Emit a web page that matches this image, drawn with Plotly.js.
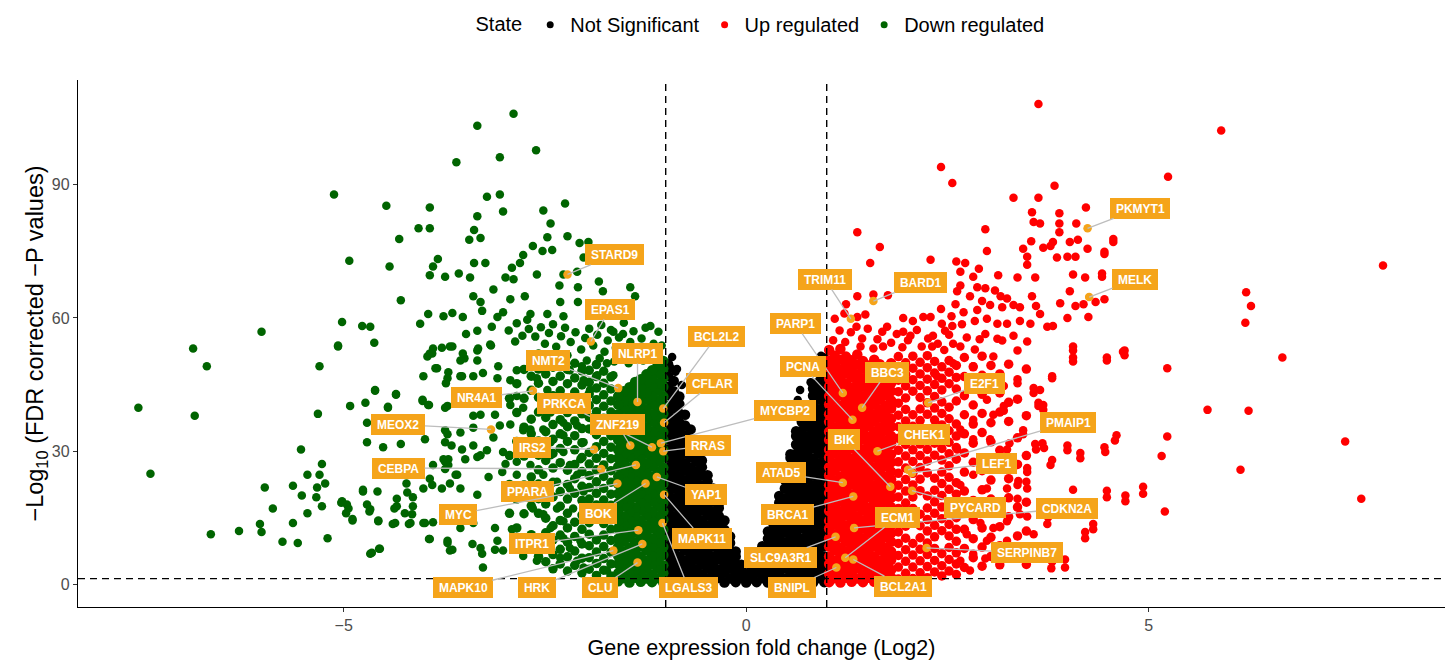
<!DOCTYPE html>
<html><head><meta charset="utf-8">
<script src="https://cdn.plot.ly/plotly-3.0.1.min.js"></script>
<style>html,body{margin:0;padding:0;background:#fff}#chart{width:1450px;height:664px}</style>
</head><body><div id="chart"></div>
<script>
// ---------- DATA (log2 fold change, -log10 FDR) ----------
const stateNames = ['Not Significant', 'Up regulated', 'Down regulated'];

// Not significant: dense columns [x, [y...]]
const notSigColumns = [
 [-0.97,[0.4,2.5,4.3,6.4,8.6,10.4,12.3,14.5,16.4,18.6,20.3,22.5,24.4,26.2,28.5,30.4,32.6,34.3,36.5,38.4,40.2,42.6,44.5,46.9,49.6]],
 [-0.90,[1.4,3.3,5.5,7.4,9.3,11.6,13.4,15.3,17.5,19.4,21.6,23.3,25.5,27.4,29.3,31.6,33.4,35.5,37.3,39.6,41.4,43.5,45.8]],
 [-0.83,[0.5,2.4,4.6,6.3,8.5,10.3,12.6,14.4,16.3,18.5,20.4,22.6,24.3,26.5,28.4,30.3,32.5,34.6,36.4,38.5,40.6,42.3]],
 [-0.76,[1.3,3.5,5.4,7.6,9.4,11.3,13.5,15.4,17.6,19.3,21.5,23.4,25.6,27.3,29.5,31.4,33.6,35.8,38.2]],
 [-0.69,[0.4,2.6,4.4,6.5,8.3,10.5,12.4,14.6,16.5,18.3,20.6,22.4,24.5,26.3,28.6,30.5,32.7,34.9]],
 [-0.62,[1.5,3.4,5.6,7.3,9.5,11.4,13.6,15.5,17.4,19.6,21.3,23.5,25.4,27.6,29.5,31.3]],
 [-0.55,[0.6,2.3,4.5,6.6,8.4,10.6,12.5,14.3,16.6,18.4,20.5,22.3,24.6,26.4,27.9]],
 [-0.48,[1.4,3.6,5.3,7.5,9.6,11.5,13.3,15.6,17.4,19.5,21.4,23.2,24.6]],
 [-0.41,[0.5,2.5,4.4,6.3,8.5,10.6,12.4,14.5,16.3,18.6,20.4,21.6]],
 [-0.34,[1.5,3.3,5.6,7.4,9.3,11.5,13.6,15.4,17.2,18.2]],
 [-0.27,[0.4,2.6,4.5,6.4,8.6,10.4,12.3,14.4]],
 [-0.20,[1.3,3.5,5.4,7.5,9.3,10.8]],
 [-0.13,[0.5,2.4,4.6,6.3,7.4]],
 [-0.06,[1.4,3.3,4.4]],
 [0.00,[0.4,2.1]],
 [0.06,[1.3,3.2]],
 [0.13,[0.5,2.6,4.5,5.6]],
 [0.20,[1.4,3.5,5.4,7.3,8.6]],
 [0.27,[0.4,2.5,4.4,6.6,8.5,10.3,11.9]],
 [0.34,[1.5,3.4,5.6,7.4,9.3,11.5,13.4,15.5]],
 [0.41,[0.6,2.4,4.5,6.3,8.6,10.4,12.5,14.3,16.6,18.4,19.9]],
 [0.48,[1.3,3.6,5.4,7.5,9.3,11.6,13.4,15.3,17.5,19.4,21.6,23.5,24.2]],
 [0.55,[0.4,2.5,4.3,6.6,8.4,10.5,12.3,14.6,16.4,18.3,20.5,22.4,24.6,26.3,28.5,29.3]],
 [0.62,[1.4,3.3,5.5,7.4,9.6,11.4,13.3,15.5,17.4,19.6,21.3,23.5,25.4,27.6,29.4,31.5,33.4,34.5]],
 [0.69,[0.5,2.6,4.4,6.3,8.5,10.3,12.6,14.4,16.3,18.5,20.4,22.6,24.3,26.5,28.4,30.3,32.5,34.6,36.6]],
 [0.76,[1.5,3.4,5.6,7.3,9.4,11.5,13.4,15.6,17.3,19.5,21.4,23.6,25.3,27.5,29.6,31.4,33.3,35.5,37.4,39.6]],
 [0.83,[0.4,2.5,4.6,6.4,8.3,10.5,12.4,14.3,16.5,18.4,20.6,22.3,24.5,26.4,28.3,30.6,32.4,34.5,36.3,38.6,40.4,42.5,44.1]],
 [0.90,[1.4,3.3,5.5,7.6,9.4,11.3,13.5,15.4,17.6,19.3,21.5,23.4,25.6,27.3,29.5,31.4,33.6,35.4,37.5,39.3,41.6,43.4,45.5,47.6]],
 [0.97,[0.5,2.4,4.5,6.3,8.6,10.4,12.3,14.5,16.4,18.6,20.3,22.5,24.4,26.6,28.3,30.5,32.4,34.6,36.3,38.5,40.4,42.6,44.3,46.5,48.6,50.9]]
];
const notSigScatter = [[0.67,43.8],[0.64,41.5],[-0.93,48.6],[-0.88,47.9],[-0.80,44.9],[0.93,51.5],[0.80,45.5],[-0.86,48.5],[-0.92,51.2]];

// Up regulated: solid core, semi-dense columns, scattered genes
const upCoreColumns = [
 [1.03,[0.5,2.4,4.6,6.3,8.5,10.4,12.6,14.3,16.5,18.4,20.6,22.3,24.5,26.4,28.6,30.3,32.5,34.4,36.6,38.3,40.5,42.4,44.6,46.3,48.5,50.4,52.8]],
 [1.10,[1.4,3.5,5.3,7.6,9.4,11.3,13.5,15.4,17.6,19.3,21.5,23.4,25.6,27.3,29.5,31.4,33.6,35.3,37.5,39.4,41.6,43.3,45.5,47.4,49.6,51.5]],
 [1.17,[0.4,2.6,4.4,6.5,8.3,10.6,12.4,14.5,16.3,18.6,20.4,22.5,24.3,26.6,28.4,30.5,32.3,34.6,36.4,38.5,40.3,42.6,44.4,46.5,48.3,50.6,53.0]],
 [1.24,[1.5,3.3,5.5,7.4,9.6,11.5,13.3,15.6,17.4,19.5,21.3,23.6,25.4,27.5,29.3,31.6,33.4,35.5,37.3,39.6,41.4,43.5,45.3,47.6,49.4,51.3]],
 [1.31,[0.6,2.5,4.3,6.6,8.4,10.5,12.3,14.6,16.4,18.5,20.3,22.6,24.4,26.5,28.3,30.6,32.4,34.5,36.3,38.6,40.4,42.5,44.3,46.6,48.4,50.5]],
 [1.38,[1.3,3.6,5.4,7.3,9.5,11.4,13.6,15.3,17.5,19.4,21.6,23.3,25.5,27.4,29.6,31.3,33.5,35.4,37.6,39.3,41.5,43.4,45.6,47.3,49.5,51.8]],
 [1.45,[0.5,2.3,4.5,6.4,8.6,10.3,12.5,14.4,16.6,18.3,20.5,22.4,24.6,26.3,28.5,30.4,32.6,34.3,36.5,38.4,40.6,42.3,44.5,46.4,48.6,50.3]],
 [1.52,[1.5,3.4,5.6,7.5,9.3,11.6,13.4,15.5,17.3,19.6,21.4,23.5,25.3,27.6,29.4,31.5,33.3,35.6,37.4,39.5,41.3,43.6,45.4,47.5,49.3]],
 [1.59,[0.6,2.6,4.4,6.3,8.5,10.4,12.6,14.3,16.5,18.4,20.6,22.3,24.5,26.4,28.6,30.3,32.5,34.4,36.6,38.3,40.5,42.4,44.6,46.3,48.5,50.6]],
 [1.66,[1.4,3.5,5.3,7.6,9.4,11.3,13.5,15.4,17.6,19.3,21.5,23.4,25.6,27.3,29.5,31.4,33.6,35.3,37.5,39.4,41.6,43.3,45.5,47.4,49.6]],
 [1.73,[0.8,2.4,4.6,6.5,8.3,10.6,12.4,14.5,16.3,18.6,20.4,22.5,24.3,26.6,28.4,30.5,32.3,34.6,36.4,38.5,40.3,42.6,44.4,46.5,48.3]],
 [1.80,[1.6,3.3,5.5,7.4,9.6,11.5,13.3,15.6,17.4,19.5,21.3,23.6,25.4,27.5,29.3,31.6,33.4,35.5,37.3,39.6,41.4,43.5,45.3,47.6,49.8]]
];
const upSemiColumns = [
 [1.89,[1.2,3.9,6.5,9.2,11.8,14.4,17.1,19.7,22.3,25.0,27.6,30.2,32.9,35.5,38.1,40.8,43.4,46.0,48.7,51.3]],
 [1.98,[2.5,5.2,7.8,10.4,13.1,15.7,18.3,21.0,23.6,26.2,28.9,31.5,34.1,36.8,39.4,42.0,44.7,47.3,49.9]],
 [2.07,[1.3,3.9,6.6,9.2,14.5,17.1,19.7,22.4,25.0,27.7,30.3,32.9,35.6,38.2,43.5,46.1,48.7,51.4]],
 [2.16,[2.6,5.3,7.9,10.5,13.2,15.8,21.1,23.7,26.3,29.0,31.6,34.2,36.9,39.5,42.1,44.8,47.4,50.0]],
 [2.25,[1.5,4.0,6.7,9.3,12.0,14.6,17.2,19.9,25.1,27.8,30.4,33.0,38.3,40.9,43.6,46.2,48.8,51.5]],
 [2.34,[2.8,5.4,8.1,10.7,13.3,16.0,18.6,21.2,23.9,29.1,31.8,34.4,37.0,39.7,42.3,45.0,47.6,50.2]],
 [2.43,[1.9,4.2,6.9,12.1,14.8,17.4,20.0,22.7,25.3,28.0,30.6,35.9,38.5,41.1,43.8,46.4,49.0]],
 [2.52,[3.0,5.6,8.3,10.9,13.5,16.2,21.4,24.1,26.7,29.4,32.0,34.6,37.3,39.9,45.2,47.8,50.4]],
 [2.61,[2.2,4.6,7.1,9.7,12.4,15.0,17.6,20.3,22.9,28.2,30.8,33.4,36.1,41.3,44.0,46.6,49.3]],
 [2.71,[3.8,8.1,12.4,16.7,21.0,25.3,29.6,33.9,38.2,42.5,46.8,51.1]],
 [2.82,[6.0,10.3,14.6,18.9,27.5,31.8,36.1,40.4,44.7,49.0]],
 [2.93,[4.1,8.4,12.7,17.0,21.3,25.6,34.2,38.5,42.8,47.1,51.4]],
 [3.04,[6.3,10.6,19.2,23.5,27.8,32.1,36.4,45.0,49.3]],
 [3.15,[4.4,8.7,13.0,17.3,25.9,30.2,38.8,43.1,47.4]],
 [3.26,[6.6,15.2,19.5,23.8,28.1,36.7,41.0,49.6]],
 [3.37,[10.9,17.4,27.0,33.0,41.7]],
 [3.48,[4.5,12.0,18.5,29.0,38.0,48.5]]
];
const upScatter = [
 [3.63,108.2],[2.42,94.0],[2.56,90.4],[3.83,89.8],[3.32,87.1],[3.63,87.1],[4.22,84.9],[3.55,83.8],[3.89,83.6],[3.57,81.6],[3.65,81.3],[3.89,81.3],[4.10,81.3],[2.97,80.0],[1.38,79.3],[3.89,79.3],[4.56,77.1],[3.54,77.3],[3.81,77.1],[4.02,77.1],[4.12,77.6],[1.66,76.0],[2.99,75.1],[3.44,75.6],[3.69,75.8],[3.78,76.2],[4.24,75.6],[4.45,74.4],[3.49,73.8],[3.86,73.6],[3.99,73.8],[4.09,73.8],[1.54,72.4],[2.29,73.1],[2.61,72.7],[2.72,72.4],[2.89,71.1],[3.49,72.0],[2.66,70.4],[2.82,69.3],[3.13,69.6],[3.37,69.1],[3.59,69.1],[4.06,69.8],[4.21,69.1],[4.42,69.3],[2.66,67.3],[2.87,66.9],[2.97,66.7],[3.09,66.2],[2.62,66.0],[1.38,64.9],[1.58,65.3],[1.76,65.1],[2.78,64.9],[3.16,64.9],[3.24,64.4],[3.55,64.9],[4.02,66.0],[1.24,63.1],[2.60,63.1],[2.93,63.8],[3.03,62.9],[3.18,62.4],[3.32,62.9],[3.40,62.4],[3.90,63.3],[4.09,62.7],[4.19,63.1],[4.34,63.6],[4.45,64.2],[2.42,62.0],[2.87,61.8],[3.60,62.7],[1.38,60.2],[1.37,58.0],[1.75,58.0],[2.07,59.3],[2.20,60.2],[2.29,60.2],[2.43,58.7],[2.56,58.2],[2.70,61.3],[2.84,59.3],[2.99,59.8],[3.12,58.7],[3.24,58.7],[3.40,59.3],[3.53,58.7],[3.65,60.9],[3.74,58.0],[3.81,58.2],[3.99,60.0],[4.25,60.2],[1.69,56.9],[1.95,56.9],[2.04,56.0],[2.32,56.0],[2.47,57.1],[2.57,54.2],[2.97,56.4],[3.12,55.3],[3.18,54.9],[3.32,56.0],[3.49,54.7],[1.42,53.6],[1.58,53.1],[1.70,53.6],[2.31,53.6],[4.06,52.7],[4.68,52.4],[1.04,52.7],
 [5.90,102.2],[5.24,91.8],[4.56,77.8],[4.45,74.9],[4.42,70.0],[7.91,71.8],[6.21,65.8],[6.27,62.7],[6.20,58.9],[6.66,51.1],[5.23,48.7],[4.70,52.7],[4.48,51.1],[4.06,53.6],[4.06,51.1],[3.80,46.9],[3.57,44.2],[3.37,46.2],[5.73,39.3],[6.24,39.1],[7.44,32.2],[5.23,33.3],[5.16,28.9],[6.14,25.8],[7.64,19.3],[5.20,16.4],[4.93,22.0],[4.71,20.0],[4.48,21.1],[4.60,33.6],[4.45,30.9],[4.15,29.6],[3.99,31.3],[3.80,28.0],[3.68,31.8],[3.59,31.6],[3.49,26.2],[3.48,23.1],[3.38,23.3],[4.31,13.6],[4.21,11.8],[3.75,15.1],[3.80,5.1],[3.96,5.6],[3.20,40.2],[3.63,40.9],[3.69,40.4],[3.44,34.7],[3.27,31.8],[4.06,21.3],
 [4.06,50.2],[4.48,50.4],[4.70,51.6],[3.80,46.4],[3.65,43.8],[3.57,43.1],[3.37,45.3],[3.63,40.2],[3.69,39.3],[3.20,39.1],[3.07,38.2],[4.58,32.4],[4.46,29.8],[3.99,30.2],[4.15,28.4],[3.78,26.9],[3.60,30.4],[3.70,30.7],[3.44,33.8],[3.24,30.4],[3.03,32.7],[3.49,25.3],[3.37,22.4],[3.49,21.6],[3.37,19.3],[4.93,20.4],[4.71,18.7],[4.48,19.6],[4.31,12.4],[4.21,10.4],[3.74,13.6],[3.49,15.3],[3.96,3.8],[3.79,3.6],[2.97,5.8],[2.78,3.1],
 [2.37,46.9],[2.57,49.8],[2.82,49.1],[3.07,51.3],[3.37,52.7],[3.20,44.7],[2.99,41.6],[2.82,37.1],[2.66,34.9],[2.82,32.7],[2.62,30.4],[3.07,26.0],[2.82,24.7],[2.66,22.4],[2.99,21.6],[3.24,21.6],[3.40,15.8],[3.24,14.2],[3.07,12.7],[2.91,13.8],[2.74,11.3],[2.99,9.8],[3.24,9.8],[3.57,11.3],[2.82,6.9],[2.66,5.3],[3.57,8.2],
 [1.08,55.0],[1.16,57.2],[1.23,54.6],[1.30,56.8],[1.44,55.4],[1.51,57.6],[1.63,55.2],[1.80,54.4],[1.87,56.4],[1.94,53.4],[2.01,55.0],[2.12,57.3],[2.18,53.6],[2.26,55.4],[2.38,54.2],[2.46,52.8],[2.52,56.2],[2.66,53.6],[2.74,55.6],[2.84,52.9],[2.90,55.2],[1.10,59.8],[1.22,61.0],[1.48,60.8],[1.95,60.0],[2.55,60.4],[2.68,58.6]
];

// Down regulated: solid core, semi-dense columns, scattered genes
const downCoreColumns = [
 [-1.03,[0.4,2.5,4.3,6.6,8.4,10.5,12.3,14.6,16.4,18.3,20.5,22.6,24.4,26.3,28.5,30.4,32.6,34.3,36.5,38.4,40.6,42.3,44.5,46.4,48.6,50.3]],
 [-1.10,[1.4,3.6,5.4,7.3,9.5,11.4,13.6,15.3,17.5,19.4,21.3,23.5,25.4,27.6,29.3,31.5,33.4,35.6,37.3,39.5,41.4,43.6,45.3,47.5,49.4]],
 [-1.17,[0.5,2.3,4.6,6.4,8.5,10.3,12.6,14.4,16.3,18.6,20.4,22.5,24.3,26.6,28.4,30.3,32.5,34.4,36.6,38.3,40.5,42.4,44.6,46.3,48.2]],
 [-1.24,[1.3,3.5,5.3,7.6,9.4,11.5,13.3,15.6,17.4,19.5,21.3,23.6,25.4,27.3,29.5,31.4,33.6,35.3,37.5,39.4,41.6,43.3,45.4,47.3]],
 [-1.31,[0.6,2.4,4.5,6.3,8.6,10.4,12.5,14.3,16.6,18.4,20.5,22.3,24.6,26.4,28.3,30.5,32.4,34.6,36.3,38.5,40.4,42.6,44.3,46.2]],
 [-1.38,[1.5,3.3,5.6,7.4,9.3,11.6,13.4,15.5,17.3,19.6,21.4,23.3,25.5,27.4,29.6,31.3,33.5,35.4,37.6,39.3,41.5,43.4,45.6]],
 [-1.45,[0.4,2.6,4.4,6.5,8.3,10.6,12.4,14.5,16.4,18.3,20.6,22.4,24.5,26.3,28.6,30.4,32.3,34.5,36.4,38.6,40.3,42.5,44.4]],
 [-1.52,[1.4,3.4,5.5,7.3,9.6,11.4,13.5,15.3,17.6,19.4,21.5,23.4,25.3,27.5,29.4,31.6,33.3,35.5,37.4,39.6,41.3,43.5]],
 [-1.59,[0.7,2.5,4.6,6.4,8.5,10.3,12.6,14.4,16.5,18.3,20.4,22.6,24.3,26.5,28.4,30.3,32.5,34.4,36.6,38.3,40.5,42.4]]
];
const downSemiColumns = [
 [-1.68,[1.9,4.6,7.2,9.9,12.4,15.1,17.8,20.3,23.0,25.6,28.3,30.9,33.5,36.2,38.8,41.3,44.0,46.7]],
 [-1.77,[3.2,5.8,8.5,11.1,13.7,16.4,19.0,21.6,24.3,26.9,29.5,32.2,34.8,37.4,40.1,42.7,45.3,48.0]],
 [-1.86,[2.0,4.7,7.3,10.0,15.2,17.9,20.5,23.1,25.8,28.4,31.0,33.7,36.3,38.9,41.6,44.2,46.8,49.5]],
 [-1.95,[3.4,6.0,8.7,11.3,13.9,16.6,19.2,21.8,24.5,27.1,29.7,35.0,37.6,40.3,42.9,45.5,48.2]],
 [-2.04,[2.6,5.9,9.1,12.4,15.6,18.9,22.1,25.4,28.6,31.9,35.1,38.4,41.6,44.9,48.1]],
 [-2.13,[4.3,7.5,10.8,14.0,20.5,23.8,27.0,30.3,33.5,36.8,40.0,43.3,46.5,49.8]],
 [-2.22,[3.0,6.2,9.5,12.7,16.0,19.2,22.5,25.7,32.2,35.5,38.7,42.0,45.2,48.4]],
 [-2.31,[4.6,7.9,11.1,14.4,17.6,20.9,27.4,30.6,33.9,37.1,40.4,43.6,46.9]],
 [-2.40,[3.5,6.7,10.0,13.2,19.7,23.0,26.2,29.5,32.7,36.0,42.5,45.7,48.9]],
 [-2.49,[5.1,8.4,11.6,14.9,18.1,21.4,27.9,31.1,34.4,37.6,40.9,47.4]],
 [-2.58,[6.3,9.5,16.0,19.3,22.6,25.8,29.1,32.3,38.8,42.1,45.3,48.5]],
 [-2.67,[7.9,11.2,17.7,20.9,24.2,30.7,33.9,37.2,43.7,46.9]],
 [-2.76,[9.4,15.9,22.4,28.9,35.4,41.9,48.4]],
 [-2.85,[12.7,19.2,32.2,38.7,45.2]],
 [-2.94,[16.0,22.5,29.0,41.9]]
];
const downScatter = [
 [-7.55,39.8],[-7.40,24.9],[-6.87,53.1],[-6.85,38.0],[-6.70,49.1],[-6.65,11.3],[-6.30,12.0],[-6.02,56.9],[-6.04,13.6],[-6.02,11.8],
 [-5.07,53.6],[-4.62,54.4],[-5.30,49.1],[-5.32,38.4],[-5.53,30.4],[-5.27,27.1],[-5.30,24.7],[-5.23,22.7],[-5.45,24.7],[-5.98,21.8],[-5.63,22.2],[-5.52,20.0],[-5.33,21.8],[-5.34,19.6],[-5.88,17.1],[-5.45,16.0],[-5.27,17.6],[-5.03,18.4],[-4.96,18.0],[-4.97,16.0],[-4.89,14.4],[-5.63,13.8],[-5.76,9.6],[-5.57,9.3],[-5.20,10.4],[-4.67,6.9],[-4.56,8.0],[-4.76,20.9],[-4.58,20.9],[-4.71,18.0],[-4.68,16.4],[-4.57,14.4],[-4.39,13.6],[-4.37,17.1],[-4.24,16.0],[-4.14,17.6],[-4.19,13.6],[-4.01,13.8],[-3.89,14.0],[-3.94,10.2],[-3.71,9.3],[-3.68,7.6],[-3.40,9.1],[-3.28,6.9],[-3.27,3.8],[-3.12,7.8],[-4.01,21.6],[-3.90,22.4],[-3.78,21.6],[-3.68,22.7],[-3.55,21.6],[-3.61,24.7],[-3.70,26.9],[-3.74,27.6],[-3.89,26.9],[-4.21,20.7],[-4.22,22.7],[-4.61,43.6],[-4.35,42.7],[-4.92,40.2],[-4.73,40.9],[-4.45,39.8],[-4.02,41.3],[-3.94,40.4],[-4.71,36.4],[-4.71,32.0],[-4.51,30.9],[-4.29,31.6],[-3.90,52.0],[-3.78,53.3],[-3.65,53.6],[-3.50,50.9],[-3.86,48.7],[-3.70,47.8],[-3.55,46.9],[-3.73,45.3],[-3.39,46.9],[-3.33,53.1],[-3.17,53.8],[-3.71,40.2],[-3.71,33.8],[-3.66,31.3],[-3.39,31.3],[-3.34,28.7],[-3.49,28.2],[-3.70,28.2],[-3.74,26.0],[-3.59,24.7],
 [-2.89,106.0],[-3.34,103.3],[-2.61,97.8],[-3.06,96.2],[-3.60,95.1],[-5.12,87.8],[-4.47,85.3],[-3.93,84.9],[-3.22,87.3],[-3.06,87.8],[-3.02,84.0],[-3.34,82.9],[-2.52,84.2],[-2.25,85.8],[-2.43,81.3],[-4.07,80.2],[-3.93,80.2],[-3.38,79.8],[-4.31,77.8],[-3.44,77.6],[-3.30,78.0],[-2.47,78.2],[-2.22,78.4],[-2.07,76.9],[-1.96,77.1],[-2.65,76.2],[-2.53,75.1],[-2.41,75.3],[-2.77,74.2],[-4.93,72.9],[-4.43,71.6],[-3.83,73.3],[-3.89,71.6],[-3.93,69.6],[-3.74,69.3],[-3.57,70.0],[-3.43,69.1],[-3.38,72.4],[-3.24,72.4],[-2.91,71.3],[-2.81,72.4],[-2.99,69.1],[-2.89,68.7],[-2.60,69.8],[-2.27,69.8],[-2.10,70.4],[-2.02,73.6],[-2.32,67.3],[-2.09,66.9],[-1.83,68.2],[-1.78,66.0],[-1.44,66.9],[-1.38,64.9],[-3.14,66.4],[-4.29,64.0],[-3.39,64.9],[-3.30,63.6],[-2.93,64.2],[-2.75,64.9],[-3.28,61.6],[-3.95,60.9],[-3.76,60.4],[-3.65,61.1],[-3.52,60.2],[-4.05,58.7],[-5.02,59.1],[-4.77,58.2],[-4.67,58.0],[-3.09,60.2],[-3.02,61.3],[-2.68,60.9],[-2.47,60.9],[-2.27,60.4],[-2.09,63.6],[-2.31,63.6],[-5.07,53.8],[-3.18,54.0],[-2.87,54.7],[-3.48,56.4],[-3.34,57.1],[-3.16,58.0],[-1.19,58.2],[-1.09,56.9],[-1.53,56.4],[-1.65,56.9],
 [-2.70,57.5],[-2.62,55.8],[-2.55,57.9],[-2.50,54.2],[-2.45,56.6],[-2.40,58.6],[-2.36,53.5],[-2.30,55.9],[-2.25,57.8],[-2.18,54.6],[-2.12,56.8],[-2.05,52.9],[-2.00,55.5],[-1.95,57.6],[-1.90,53.8],[-1.85,56.2],[-1.80,58.4],[-1.76,52.4],[-1.72,54.9],[-1.68,57.3],[-1.62,53.3],[-1.58,55.6],[-1.52,58.9],[-1.48,52.2],[-1.44,54.6],[-1.40,57.0],[-1.35,53.1],[-1.30,55.4],[-1.25,57.8],[-1.20,52.0],[-1.15,54.2],[-1.10,51.6],[-1.05,53.8],[-2.58,52.0],[-2.42,51.2],[-2.22,51.6],[-1.98,50.4],[-1.82,50.9],[-1.64,50.2],[-1.46,49.8],[-1.28,50.4],[-2.78,56.0],[-2.85,58.8],[-2.95,57.2],[-2.72,59.6],
 [-3.93,52.0],[-4.61,43.8],[-4.35,42.9],[-4.45,40.0],[-4.02,41.6],[-3.95,40.4],[-3.74,39.8],[-3.99,32.7],[-3.74,34.7],[-3.74,32.0],[-3.55,34.2],[-3.39,35.3],[-3.14,33.1],[-3.53,30.4],[-3.76,28.2],[-3.93,23.8],[-4.34,19.3],[-4.14,19.6],[-4.34,17.6],[-4.15,15.8],[-4.36,13.8],[-4.17,13.8],[-3.99,13.8],[-4.76,21.3],[-5.02,18.7],[-4.94,17.1],[-4.67,16.9],[-4.89,14.7],[-4.57,14.2],[-3.93,10.2],[-3.71,9.8],[-3.65,7.8],[-4.65,7.1],[-4.55,8.0],[-3.55,12.7],[-3.43,17.1],[-3.39,13.8],[-3.34,20.2],[-3.30,8.2],[-3.09,9.8],[-3.02,7.6],[-3.12,12.7],[-2.91,12.4],[-2.87,8.0],[-2.77,6.4],[-2.60,5.3],[-3.20,24.2],[-3.03,25.3],[-2.99,27.1],[-2.99,21.6],[-2.85,24.7],[-2.85,27.6],[-2.68,26.9],[-3.30,29.1],[-3.22,30.2],[-3.02,29.8],[-2.84,29.8],[-3.39,38.0],[-3.30,38.2],[-3.12,38.2],[-3.06,35.8],[-2.93,36.0],[-2.77,34.7],[-2.68,34.9],[-2.52,34.9],[-2.93,40.4],[-2.85,42.4],[-2.77,39.8],[-3.09,46.4],[-2.93,46.0],[-2.85,48.2],[-3.08,49.1],[-3.27,47.6],[-3.34,50.4],[-3.55,50.4],[-3.71,46.4],[-3.53,46.9],[-3.52,52.0],[-3.34,52.7],[-3.68,53.6],[-3.89,53.1],[-3.96,51.3],[-3.84,48.7],[-4.01,46.9],[-2.68,49.8],[-2.60,46.4],[-2.47,43.8],[-2.19,48.2],[-2.04,49.1],[-2.02,46.0],[-1.94,43.8],[-1.85,47.1],[-1.73,49.8],[-1.65,47.1],[-2.27,36.4],[-2.27,33.6],[-2.43,32.0],[-2.27,29.8],[-2.43,29.1],[-2.19,26.9],[-2.52,24.7],[-2.35,23.1],[-2.19,21.6],[-2.77,20.2],[-2.65,17.1],[-2.52,15.8],[-2.35,17.1],[-2.27,14.2],[-2.43,12.7],[-2.27,10.4],[-2.19,8.2],[-2.31,6.0],[-2.10,5.3],[-2.02,3.8],[-1.85,4.7],[-1.73,3.1],[-2.06,9.8],[-2.15,17.1],[-2.02,20.9],[-2.10,24.7],[-2.06,28.2],[-2.02,32.0],[-2.10,35.8],[-2.02,39.3],[-2.19,41.6],[-2.31,42.4],[-2.43,38.7]
];

// Labelled genes (drawing order matters for overlap)
const labelGenes = ['STARD9','EPAS1','NMT2','NLRP1','NR4A1','PRKCA','ZNF219','MEOX2','IRS2','CEBPA','PPARA','MYC','BOK','ITPR1','MAPK10','HRK','CLU','LGALS3','MAPK11','YAP1','MYCBP2','RRAS','CFLAR','BCL2L2','TRIM11','BARD1','PKMYT1','MELK','PARP1','PCNA','BBC3','E2F1','CHEK1','BIK','PMAIP1','LEF1','ATAD5','BRCA1','CDKN2A','PYCARD','ECM1','SLC9A3R1','SERPINB7','BCL2A1','BNIPL'];
const labelFC  = [-2.22,-1.93,-1.59,-1.35,-2.65,-1.17,-1.44,-3.17,-1.89,-1.80,-1.37,-1.60,-1.25,-1.34,-1.65,-1.29,-1.35,-1.04,-1.02,-1.11,-1.06,-1.03,-1.02,-1.03, 1.30,1.58,4.24,4.26,1.20,1.32,1.44,2.26,1.63,1.79,2.01,2.06,1.20,1.33,1.34,2.06,1.23,1.11,2.24,1.33,1.12];
const labelSig = [69.8,54.7,44.2,41.1,43.6,30.9,31.3,34.9,30.4,26.0,26.9,22.7,22.7,12.2,7.6,9.1,4.9,13.8,20.2,24.2,31.8,30.0,36.4,39.6, 59.8,63.8,80.2,64.7,43.1,37.1,39.8,40.9,30.0,22.0,25.8,25.1,22.9,19.8,12.7,21.1,6.0,10.7,8.2,5.6,3.8];
// label box placement (layout, in axis units)
const labelBoxX = [-1.63,-1.69,-2.46,-1.35,-3.35,-2.26,-1.60,-4.32,-2.66,-4.32,-2.72,-3.58,-1.84,-2.66,-3.52,-2.60,-1.81,-0.72,-0.55,-0.50,0.48,-0.48,-0.42,-0.37, 0.98,2.16,4.89,4.83,0.61,0.70,1.75,2.96,2.21,1.22,4.00,3.11,0.43,0.51,3.98,2.84,1.88,0.42,3.49,1.95,0.57];
const labelBoxY = [74.2,62.0,50.4,52.0,42.0,40.7,36.0,36.0,30.9,26.2,20.9,15.8,16.0,9.1,-0.7,-0.7,-0.7,-0.7,10.4,20.2,39.1,31.3,45.3,55.8, 68.7,68.0,84.7,68.7,58.7,49.1,47.8,45.3,33.8,32.7,36.4,27.3,25.1,15.8,17.1,17.3,15.1,6.0,7.1,-0.4,-0.7];

// ---------- BUILD ----------
const SIZE_CORE = 10.5, SIZE_SEMI = 9.5, SIZE_PT = 8.5;
function build(groups){
  const x=[],y=[],s=[];
  groups.forEach(([kind,items,size])=>{
    if(kind==='cols') items.forEach(c=>c[1].forEach(v=>{x.push(c[0]);y.push(v);s.push(size);}));
    else items.forEach(p=>{x.push(p[0]);y.push(p[1]);s.push(size);});
  });
  return {x,y,s};
}
const ns = build([['cols',notSigColumns,SIZE_CORE],['pts',notSigScatter,SIZE_PT]]);
const up = build([['cols',upCoreColumns,SIZE_CORE],['cols',upSemiColumns,SIZE_SEMI],['pts',upScatter,SIZE_PT]]);
const dn = build([['cols',downCoreColumns,SIZE_CORE],['cols',downSemiColumns,SIZE_SEMI],['pts',downScatter,SIZE_PT]]);

const ORANGE = '#F5A41A';
const COLORS = ['#000000','#FF0000','#006400'];
function mk(color,sizes){return {color:color,size:sizes,opacity:1,line:{width:0,color:color}};}
const groupsData = [ns, up, dn];
const traces = groupsData.map((g,i)=>({type:'scatter',mode:'markers',name:stateNames[i],legendgroup:stateNames[i],showlegend:false,
  x:g.x,y:g.y,marker:mk(COLORS[i],g.s),hoverinfo:'skip'}));
// legend keys (no marks drawn)
stateNames.forEach((n,i)=>traces.push({type:'scatter',mode:'markers',name:n,legendgroup:n,showlegend:true,
  x:[null],y:[null],marker:mk(COLORS[i],7),hoverinfo:'skip'}));
traces.push({type:'scatter',mode:'markers',name:'labelled',showlegend:false,x:labelFC,y:labelSig,marker:mk(ORANGE,SIZE_PT),hoverinfo:'skip'});

const FONT = 'Liberation Sans, Arial, Helvetica, sans-serif';
const annotations = labelGenes.map((g,i)=>({
 x:labelFC[i], y:labelSig[i], ax:labelBoxX[i], ay:labelBoxY[i], axref:'x', ayref:'y', xref:'x', yref:'y',
 text:'<b>\u2009'+g+'\u2009</b>', showarrow:true, arrowhead:0, arrowwidth:1.3, arrowcolor:'#BDBDBD', standoff:0,
 bgcolor:ORANGE, bordercolor:ORANGE, borderwidth:1, borderpad:2.5,
 font:{family:FONT,size:12,color:'#FFFFFF'}
}));

const dash = {color:'#000000',width:1.4,dash:'7px,5px'};
const shapes = [
 {type:'line',xref:'x',yref:'paper',x0:-1,x1:-1,y0:0,y1:1,line:dash},
 {type:'line',xref:'x',yref:'paper',x0:1,x1:1,y0:0,y1:1,line:dash},
 {type:'line',xref:'paper',yref:'y',x0:0,x1:1,y0:1.3,y1:1.3,line:dash}
];

const layout = {
 width:1450, height:664,
 margin:{l:78,r:5,t:73,b:57},
 paper_bgcolor:'#FFFFFF', plot_bgcolor:'#FFFFFF',
 font:{family:FONT,color:'#000000'},
 showlegend:true,
 legend:{orientation:'h',x:0.5,xanchor:'center',y:1.105,yanchor:'middle',
   title:{text:'State',side:'left',font:{size:20,color:'#000'}},font:{size:20,color:'#000'},itemsizing:'trace'},
 xaxis:{range:[-8.3,8.68],tickmode:'array',tickvals:[-5,0,5],ticktext:['\u22125','0','5'],
   showgrid:false,zeroline:false,showline:true,linecolor:'#000',linewidth:1.2,
   ticks:'outside',ticklen:4,tickcolor:'#333',tickwidth:1,tickfont:{size:16,color:'#4D4D4D'},
   title:{text:'Gene expression fold change (Log2)',font:{size:21.5,color:'#000'},standoff:6}},
 yaxis:{range:[-5.1,113.6],tickmode:'array',tickvals:[0,30,60,90],
   showgrid:false,zeroline:false,showline:true,linecolor:'#000',linewidth:1.2,
   ticks:'outside',ticklen:4,tickcolor:'#333',tickwidth:1,tickfont:{size:16,color:'#4D4D4D'},
   title:{text:'\u2212Log<sub>10</sub> (FDR corrected \u2212P values)',font:{size:23.5,color:'#000'},standoff:1}},
 shapes:shapes,
 annotations:annotations
};

Plotly.newPlot('chart', traces, layout, {displayModeBar:false, staticPlot:true});
</script></body></html>
